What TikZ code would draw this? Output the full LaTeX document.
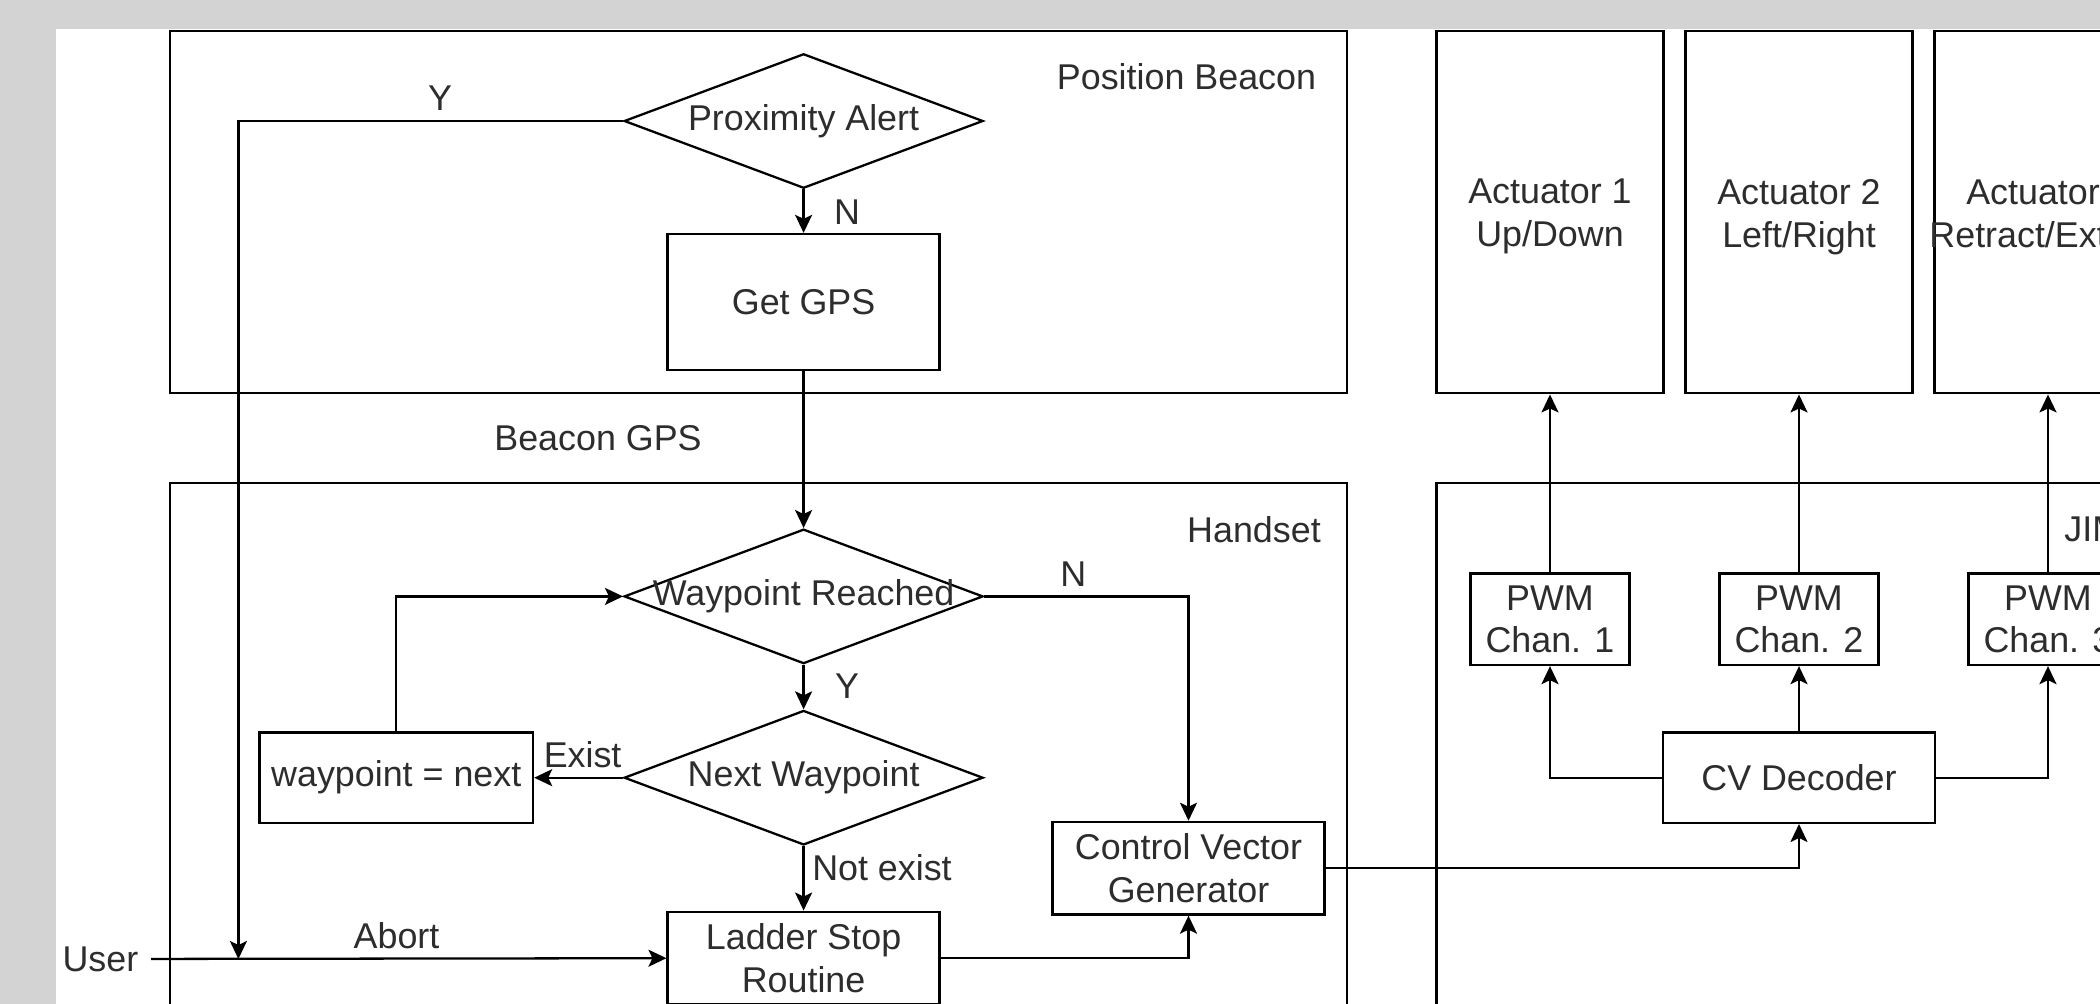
\documentclass[tikz,border=0pt]{standalone}
\usepackage{fontspec}
\setmainfont{Liberation Sans}
\usepackage{tikz}
\usepackage{xcolor}
\usetikzlibrary{shapes.geometric,arrows.meta}
\definecolor{bggray}{RGB}{211,211,211}
\definecolor{inkgray}{RGB}{45,45,45}

\begin{document}
\begin{tikzpicture}
  [y=-1cm,line width=0.65pt,
   every node/.style={font=\fontsize{10.2}{12.2}\selectfont,text=inkgray,align=center},
   box/.style={draw,rectangle,minimum width=2.72cm,minimum height=0.9cm},
   tallbox/.style={box,minimum width=2.27cm,minimum height=3.626cm,inner sep=0pt},
   pwmbox/.style={box,minimum width=1.59cm,minimum height=0.914cm,inner sep=0pt},
   decision/.style={draw,diamond,minimum width=3.59cm,minimum height=1.345cm,inner sep=0pt},
   arrow/.style={-{Stealth[length=1.8mm,width=1.7mm,inset=0.4mm]}}]

  \useasboundingbox (0,0) rectangle (21,10.04);
  \clip (0,0) rectangle (21,10.04);
  \fill[bggray] (0,0) rectangle (21,10.04);
  \fill[white] (0.56,0.293) rectangle (21,10.04);

  % frames
  \draw (1.70,0.307) rectangle (13.467,3.933);
  \draw (1.70,4.833) rectangle (13.467,11);
  \draw (14.364,4.833) rectangle (22,11);
  \node (beaconlbl) at (11.865,0.767) {Position Beacon};
  \node (handsetlbl) at (12.54,5.295) {Handset};
  \node[anchor=west,inner sep=0pt] (jimlbl) at (20.633,5.295) {JIM};

  % position beacon
  \node[decision,label=center:Proximity Alert] (prox) at (8.036,1.21) {};
  \node[box,minimum height=1.36cm] (getgps) at (8.036,3.02) {Get GPS};

  % handset
  \node[decision,label=center:Waypoint Reached] (wpreached) at (8.036,5.964) {};
  \node[decision,label=center:Next Waypoint] (nextwp) at (8.036,7.777) {};
  \node[box,minimum height=0.903cm] (wpnext) at (3.963,7.777) {waypoint = next};
  \node[box,minimum height=0.89cm] (ladder) at (8.036,9.58) {Ladder Stop\\Routine};
  \node[box,minimum height=0.91cm] (cvg) at (11.885,8.682) {Control Vector\\Generator};
  \node (user) at (1.004,9.59) {User};
  \coordinate (abortjoin) at (2.384,9.59);

  % JIM
  \node[box,minimum height=0.903cm] (cvdec) at (17.99,7.777) {CV Decoder};
  \node[pwmbox] (pwm1) at (15.50,6.193) {PWM\\Chan. 1};
  \node[pwmbox] (pwm2) at (17.99,6.193) {PWM\\Chan. 2};
  \node[pwmbox] (pwm3) at (20.48,6.193) {PWM\\Chan. 3};
  \node[tallbox,label={[yshift=-0.075cm]center:{Actuator 1\\Up/Down\strut}}] (act1) at (15.50,2.12) {};
  \node[tallbox,label={[yshift=-0.075cm]center:{Actuator 2\\Left/Right\strut}}] (act2) at (17.99,2.12) {};
  \node[tallbox,label={[yshift=-0.075cm]center:{Actuator 3\\Retract/Extend\strut}}] (act3) at (20.48,2.12) {};

  % labels
  \node (ylbl) at (4.40,0.98) {Y};
  \node (nlbl) at (8.47,2.117) {N};
  \node (beacongps) at (5.98,4.38) {Beacon GPS};
  \node (nlbl2) at (10.734,5.746) {N};
  \node (ylbl2) at (8.47,6.857) {Y};
  \node (existlbl) at (5.826,7.55) {Exist};
  \node (notexist) at (8.82,8.68) {Not exist};
  \node (abortlbl) at (3.965,9.355) {Abort};

  \foreach \from/\to in {prox/getgps,getgps/wpreached,wpreached/nextwp,nextwp/wpnext,nextwp/ladder,
                         user/ladder,cvdec/pwm2,pwm1/act1,pwm2/act2,pwm3/act3}
    \draw[arrow] (\from) -- (\to);

  \draw[arrow] (prox.west) -| (abortjoin);
  \draw[arrow] (wpnext.north) |- (wpreached.west);
  \draw[arrow] (wpreached.east) -| (cvg.north);
  \draw[arrow] (ladder.east) -| (cvg.south);
  \draw[arrow] (cvg.east) -| (cvdec.south);
  \draw[arrow] (cvdec.west) -| (pwm1.south);
  \draw[arrow] (cvdec.east) -| (pwm3.south);

\end{tikzpicture}
\end{document}
